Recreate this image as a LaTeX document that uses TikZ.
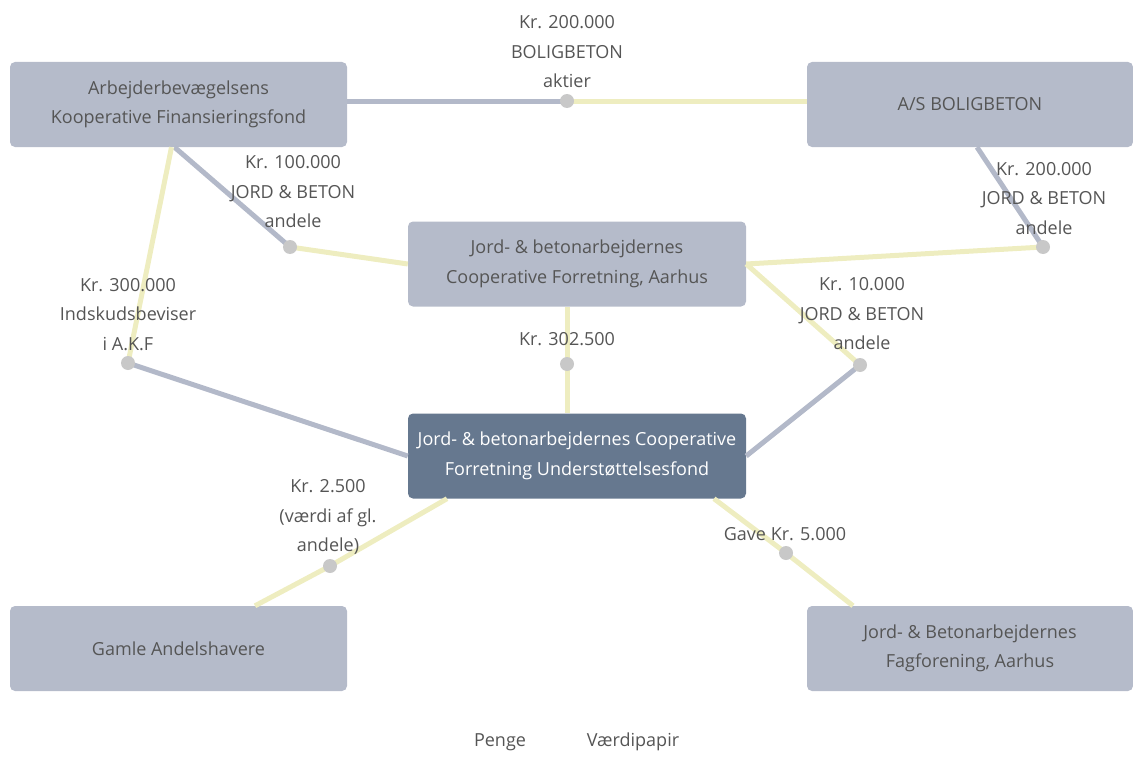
\documentclass[tikz,border=0pt]{standalone}
\usepackage{fontspec}
\setmainfont{Open Sans}
\definecolor{boxc}{HTML}{B5BBCA}
\definecolor{darkc}{HTML}{66788F}
\definecolor{grayline}{HTML}{B3B9C9}
\definecolor{yelline}{HTML}{EEEDC0}
\definecolor{dotc}{HTML}{C8C8C8}
\definecolor{txt}{HTML}{555555}
\begin{document}
\begin{tikzpicture}[x=1pt,y=-1pt,
  every node/.style={font=\fontsize{18}{29.5}\selectfont, text=txt},
  box/.style={rectangle, rounded corners=5pt, fill=boxc, minimum width=337pt, minimum height=85pt, align=center, inner sep=0pt},
  darkbox/.style={box, fill=darkc, text=white},
  dotn/.style={circle, fill=dotc, minimum size=14pt, inner sep=0pt},
  gl/.style={draw=grayline, line width=5pt},
  yl/.style={draw=yelline, line width=5pt},
  lbl/.style={align=center, inner sep=0pt}]
\useasboundingbox (0,0) rectangle (1133,760);
% boxes
\node[box] (akf) at (178.5,104.5) {Arbejderbevægelsens\\Kooperative Finansieringsfond};
\node[box, minimum width=326pt] (asb) at (970,104.5) {A/S BOLIGBETON};
\node[box, minimum width=338pt] (coop) at (577,264) {Jord- \& betonarbejdernes\\Cooperative Forretning, Aarhus};
\node[darkbox, minimum width=338pt] (fond) at (577,456) {Jord- \& betonarbejdernes Cooperative\\Forretning Understøttelsesfond};
\node[box] (gamle) at (178.5,648.5) {Gamle Andelshavere};
\node[box, minimum width=326pt] (fag) at (970,648.5) {Jord- \& Betonarbejdernes\\Fagforening, Aarhus};
% dot coordinates
\coordinate (d1) at (567,101);
\coordinate (d2) at (290,247);
\coordinate (d3) at (128,363);
\coordinate (d4) at (1043,247);
\coordinate (d5) at (860,365);
\coordinate (d6) at (567,364);
\coordinate (d7) at (330,566);
\coordinate (d8) at (786,553);
% connectors
\draw[gl] (d1 -| akf.east) -- (d1);
\draw[yl] (d1) -- (d1 -| asb.west);
\draw[gl] ([xshift=-4pt]akf.south) -- (d2);
\draw[yl] (d2) -- (coop.west);
\draw[yl] ([xshift=-7pt]akf.south) -- (d3);
\draw[gl] (d3) -- (fond.west);
\draw[gl] ([xshift=7pt]asb.south) -- (d4);
\draw[yl] (d4) -- (coop.east);
\draw[yl] (coop.east) -- (d5);
\draw[gl] (d5) -- (fond.east);
\draw[yl] (coop.south -| d6) -- (d6) -- (d6 |- fond.north);
\draw[yl] ([xshift=-130pt]fond.south) -- (d7) -- ([xshift=76.5pt]gamle.north);
\draw[yl] ([xshift=137pt]fond.south) -- (d8) -- ([xshift=-117pt]fag.north);
% dots
\foreach \d in {d1,d2,d3,d4,d5,d6,d7,d8} \node[dotn] (n\d) at (\d) {};
% labels
\node[lbl] (l1) at (567,52) {Kr. 200.000\\BOLIGBETON\\aktier};
\node[lbl] (l2) at (293,192) {Kr. 100.000\\JORD \& BETON\\andele};
\node[lbl] (l3) at (1044,198.5) {Kr. 200.000\\JORD \& BETON\\andele};
\node[lbl] (l4) at (128,314.5) {Kr. 300.000\\Indskudsbeviser\\i A.K.F};
\node[lbl] (l5) at (862,314) {Kr. 10.000\\JORD \& BETON\\andele};
\node[lbl] (l6) at (567,339) {Kr. 302.500};
\node[lbl] (l7) at (328,517) {Kr. 2.500\\(værdi af gl.\\andele)};
\node[lbl] (l8) at (785,534) {Gave Kr. 5.000};
\node[lbl] (leg1) at (500,742) {Penge};
\node[lbl] (leg2) at (633,742) {Værdipapir};
\end{tikzpicture}
\end{document}
